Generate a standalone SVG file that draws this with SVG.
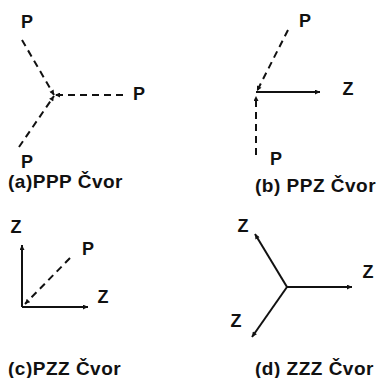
<svg xmlns="http://www.w3.org/2000/svg" width="377" height="378" viewBox="0 0 377 378">
<defs>
<marker id="ah" viewBox="0 0 10 10" refX="10" refY="5" markerWidth="10" markerHeight="5" markerUnits="userSpaceOnUse" orient="auto">
<path d="M0,0 L10,5 L0,10 z" fill="#111"/>
</marker>
</defs>
<style>
.lbl{font-family:"Liberation Sans",Arial,sans-serif;font-weight:bold;font-size:18px;fill:#111;text-anchor:middle}
.cap{font-family:"Liberation Sans",Arial,sans-serif;font-weight:bold;font-size:19px;letter-spacing:0.5px;fill:#111}
.dash{stroke:#111;stroke-width:2;fill:none;stroke-dasharray:7 5;marker-end:url(#ah)}
.solid{stroke:#111;stroke-width:2;fill:none;marker-end:url(#ah)}
</style>
<rect width="377" height="378" fill="#fff"/>
<g id="connectors">
<line class="dash" x1="22" y1="40" x2="54" y2="95"/>
<line class="dash" x1="123" y1="95" x2="55" y2="95"/>
<line class="dash" x1="19" y1="147" x2="54" y2="96"/>
<line class="dash" x1="288" y1="30" x2="257" y2="91"/>
<line class="solid" x1="256" y1="92" x2="320" y2="92"/>
<line class="dash" x1="256" y1="155" x2="256" y2="96"/>
<line class="solid" x1="22" y1="307" x2="22" y2="245"/>
<line class="solid" x1="22" y1="307" x2="88" y2="307"/>
<line class="dash" x1="70" y1="258" x2="25" y2="304"/>
<line class="solid" x1="287" y1="287" x2="352" y2="287"/>
<line class="solid" x1="287" y1="287" x2="255" y2="234"/>
<line class="solid" x1="287" y1="287" x2="252" y2="337"/>
</g>
<g id="node-a">
<text class="lbl" x="27" y="28">P</text>
<text class="lbl" x="139" y="100">P</text>
<text class="lbl" x="27" y="168">P</text>
<text class="cap" x="8" y="188">(a)PPP Čvor</text>
</g>
<g id="node-b">
<text class="lbl" x="305" y="27">P</text>
<text class="lbl" x="348" y="95">Z</text>
<text class="lbl" x="276" y="165">P</text>
<text class="cap" x="255" y="192">(b) PPZ Čvor</text>
</g>
<g id="node-c">
<text class="lbl" x="16" y="233">Z</text>
<text class="lbl" x="103" y="303">Z</text>
<text class="lbl" x="88" y="255">P</text>
<text class="cap" x="8" y="375">(c)PZZ Čvor</text>
</g>
<g id="node-d">
<text class="lbl" x="243" y="232">Z</text>
<text class="lbl" x="368" y="278">Z</text>
<text class="lbl" x="236" y="327">Z</text>
<text class="cap" x="255" y="375">(d) ZZZ Čvor</text>
</g>
</svg>
